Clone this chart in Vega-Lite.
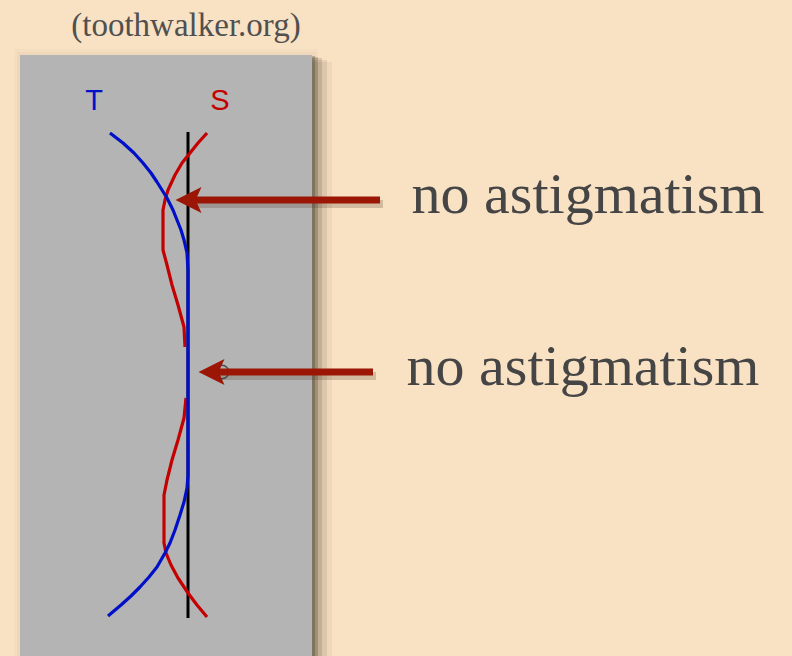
{
  "$schema": "https://vega.github.io/schema/vega-lite/v6.json",
  "width": 792,
  "height": 656,
  "autosize": {"type": "fit", "contains": "padding"},
  "padding": 0,
  "background": "#f9e1c3",
  "config": {"view": {"stroke": null}},
  "layer": [
    {
      "data": {"values": [
        {"x0": 14, "x1": 318, "y0": 49, "y1": 656, "o": 0.02},
        {"x0": 17, "x1": 316, "y0": 52, "y1": 656, "o": 0.03},
        {"x0": 312, "x1": 332, "y0": 62, "y1": 656, "o": 0.05},
        {"x0": 312, "x1": 327, "y0": 60, "y1": 656, "o": 0.09},
        {"x0": 312, "x1": 322, "y0": 58, "y1": 656, "o": 0.14},
        {"x0": 312, "x1": 318, "y0": 57, "y1": 656, "o": 0.2},
        {"x0": 312, "x1": 315, "y0": 56, "y1": 656, "o": 0.25}
      ]},
      "mark": {"type": "rect", "color": "#2e2618"},
      "encoding": {
        "x": {"field": "x0", "type": "quantitative", "scale": {"domain": [0, 792], "nice": false, "zero": false}, "axis": null},
        "x2": {"field": "x1"},
        "y": {"field": "y0", "type": "quantitative", "scale": {"domain": [0, 656], "reverse": true, "nice": false, "zero": false}, "axis": null},
        "y2": {"field": "y1"},
        "opacity": {"field": "o", "type": "quantitative", "scale": null, "legend": null}
      }
    },
    {
      "data": {"values": [{"x0": 20, "x1": 312, "y0": 55, "y1": 656}]},
      "mark": {"type": "rect", "color": "#b4b4b4"},
      "encoding": {
        "x": {"field": "x0", "type": "quantitative"},
        "x2": {"field": "x1"},
        "y": {"field": "y0", "type": "quantitative"},
        "y2": {"field": "y1"}
      }
    },
    {
      "data": {"values": [{"x": 188, "y0": 132, "y1": 618}]},
      "mark": {"type": "rule", "color": "#000000", "strokeWidth": 3},
      "encoding": {
        "x": {"field": "x", "type": "quantitative"},
        "y": {"field": "y0", "type": "quantitative"},
        "y2": {"field": "y1"}
      }
    },
    {
      "data": {"values": [
        {"curve": "S", "seg": "S1", "i": 0, "x": 207, "y": 133},
        {"curve": "S", "seg": "S1", "i": 1, "x": 198, "y": 143},
        {"curve": "S", "seg": "S1", "i": 2, "x": 190, "y": 153},
        {"curve": "S", "seg": "S1", "i": 3, "x": 182, "y": 163},
        {"curve": "S", "seg": "S1", "i": 4, "x": 175, "y": 175},
        {"curve": "S", "seg": "S1", "i": 5, "x": 168, "y": 190},
        {"curve": "S", "seg": "S1", "i": 6, "x": 165, "y": 200},
        {"curve": "S", "seg": "S1", "i": 7, "x": 163, "y": 210},
        {"curve": "S", "seg": "S1", "i": 8, "x": 163, "y": 250},
        {"curve": "S", "seg": "S1", "i": 9, "x": 167, "y": 265},
        {"curve": "S", "seg": "S1", "i": 10, "x": 172, "y": 285},
        {"curve": "S", "seg": "S1", "i": 11, "x": 178, "y": 305},
        {"curve": "S", "seg": "S1", "i": 12, "x": 184, "y": 327},
        {"curve": "S", "seg": "S1", "i": 13, "x": 185, "y": 347},
        {"curve": "S", "seg": "S2", "i": 0, "x": 186, "y": 398},
        {"curve": "S", "seg": "S2", "i": 1, "x": 184, "y": 418},
        {"curve": "S", "seg": "S2", "i": 2, "x": 178, "y": 440},
        {"curve": "S", "seg": "S2", "i": 3, "x": 172, "y": 460},
        {"curve": "S", "seg": "S2", "i": 4, "x": 167, "y": 480},
        {"curve": "S", "seg": "S2", "i": 5, "x": 164, "y": 495},
        {"curve": "S", "seg": "S2", "i": 6, "x": 164, "y": 543},
        {"curve": "S", "seg": "S2", "i": 7, "x": 166, "y": 553},
        {"curve": "S", "seg": "S2", "i": 8, "x": 171, "y": 565},
        {"curve": "S", "seg": "S2", "i": 9, "x": 178, "y": 578},
        {"curve": "S", "seg": "S2", "i": 10, "x": 188, "y": 593},
        {"curve": "S", "seg": "S2", "i": 11, "x": 197, "y": 605},
        {"curve": "S", "seg": "S2", "i": 12, "x": 207, "y": 617},
        {"curve": "T", "seg": "T1", "i": 0, "x": 110, "y": 133},
        {"curve": "T", "seg": "T1", "i": 1, "x": 123, "y": 143},
        {"curve": "T", "seg": "T1", "i": 2, "x": 134, "y": 153},
        {"curve": "T", "seg": "T1", "i": 3, "x": 143, "y": 163},
        {"curve": "T", "seg": "T1", "i": 4, "x": 151, "y": 173},
        {"curve": "T", "seg": "T1", "i": 5, "x": 157, "y": 182},
        {"curve": "T", "seg": "T1", "i": 6, "x": 167, "y": 198},
        {"curve": "T", "seg": "T1", "i": 7, "x": 173, "y": 210},
        {"curve": "T", "seg": "T1", "i": 8, "x": 177, "y": 220},
        {"curve": "T", "seg": "T1", "i": 9, "x": 181, "y": 230},
        {"curve": "T", "seg": "T1", "i": 10, "x": 184, "y": 240},
        {"curve": "T", "seg": "T1", "i": 11, "x": 187, "y": 253},
        {"curve": "T", "seg": "T1", "i": 12, "x": 188, "y": 270},
        {"curve": "T", "seg": "T1", "i": 13, "x": 188, "y": 475},
        {"curve": "T", "seg": "T1", "i": 14, "x": 187, "y": 488},
        {"curve": "T", "seg": "T1", "i": 15, "x": 184, "y": 502},
        {"curve": "T", "seg": "T1", "i": 16, "x": 180, "y": 515},
        {"curve": "T", "seg": "T1", "i": 17, "x": 175, "y": 530},
        {"curve": "T", "seg": "T1", "i": 18, "x": 170, "y": 543},
        {"curve": "T", "seg": "T1", "i": 19, "x": 165, "y": 553},
        {"curve": "T", "seg": "T1", "i": 20, "x": 157, "y": 567},
        {"curve": "T", "seg": "T1", "i": 21, "x": 149, "y": 577},
        {"curve": "T", "seg": "T1", "i": 22, "x": 140, "y": 587},
        {"curve": "T", "seg": "T1", "i": 23, "x": 131, "y": 596},
        {"curve": "T", "seg": "T1", "i": 24, "x": 121, "y": 605},
        {"curve": "T", "seg": "T1", "i": 25, "x": 108, "y": 616}
      ]},
      "mark": {"type": "line", "strokeWidth": 3.2, "interpolate": "linear", "strokeJoin": "round"},
      "encoding": {
        "x": {"field": "x", "type": "quantitative"},
        "y": {"field": "y", "type": "quantitative"},
        "detail": {"field": "seg"},
        "order": {"field": "i", "type": "quantitative"},
        "color": {"field": "curve", "type": "nominal", "scale": {"domain": ["S", "T"], "range": ["#c40000", "#0010c8"]}, "legend": null}
      }
    },
    {
      "data": {"values": [{"x": 222, "y": 372}]},
      "mark": {"type": "point", "shape": "circle", "size": 180, "filled": false, "stroke": "#222222", "strokeWidth": 1.5},
      "encoding": {
        "x": {"field": "x", "type": "quantitative"},
        "y": {"field": "y", "type": "quantitative"}
      }
    },
    {
      "data": {"values": [
        {"label": "T", "x": 94, "y": 101},
        {"label": "S", "x": 220, "y": 101}
      ]},
      "mark": {"type": "text", "font": "Liberation Sans", "fontSize": 29, "align": "center", "baseline": "middle"},
      "encoding": {
        "x": {"field": "x", "type": "quantitative"},
        "y": {"field": "y", "type": "quantitative"},
        "text": {"field": "label"},
        "color": {"field": "label", "type": "nominal", "scale": {"domain": ["S", "T"], "range": ["#c41a1a", "#1020c8"]}, "legend": null}
      }
    },
    {
      "data": {"values": [
        {"a": 1, "x0": 383, "x1": 196, "y": 204},
        {"a": 2, "x0": 376, "x1": 219, "y": 376}
      ]},
      "mark": {"type": "rule", "color": "#4a3420", "strokeWidth": 8, "opacity": 0.22},
      "encoding": {
        "x": {"field": "x0", "type": "quantitative"},
        "x2": {"field": "x1"},
        "y": {"field": "y", "type": "quantitative"}
      }
    },
    {
      "data": {"values": [
        {"a": 1, "x0": 380, "x1": 193, "y": 200},
        {"a": 2, "x0": 373, "x1": 216, "y": 372}
      ]},
      "mark": {"type": "rule", "color": "#9b1604", "strokeWidth": 7},
      "encoding": {
        "x": {"field": "x0", "type": "quantitative"},
        "x2": {"field": "x1"},
        "y": {"field": "y", "type": "quantitative"}
      }
    },
    {
      "data": {"values": [
        {"a": 1, "x": 188.5, "y": 200},
        {"a": 2, "x": 211.5, "y": 372}
      ]},
      "mark": {"type": "point", "shape": "M-1,0L1,-1L0.55,0L1,1Z", "size": 676, "filled": true, "color": "#9b1604", "opacity": 1},
      "encoding": {
        "x": {"field": "x", "type": "quantitative"},
        "y": {"field": "y", "type": "quantitative"}
      }
    },
    {
      "data": {"values": [
        {"t": "(toothwalker.org)", "x": 186, "y": 36}
      ]},
      "mark": {"type": "text", "font": "Liberation Serif", "fontSize": 33, "align": "center", "baseline": "alphabetic", "color": "#505050"},
      "encoding": {
        "x": {"field": "x", "type": "quantitative"},
        "y": {"field": "y", "type": "quantitative"},
        "text": {"field": "t"}
      }
    },
    {
      "data": {"values": [
        {"t": "no astigmatism", "x": 588, "y": 213},
        {"t": "no astigmatism", "x": 583, "y": 385}
      ]},
      "mark": {"type": "text", "font": "Liberation Serif", "fontSize": 58, "align": "center", "baseline": "alphabetic", "color": "#454545"},
      "encoding": {
        "x": {"field": "x", "type": "quantitative"},
        "y": {"field": "y", "type": "quantitative"},
        "text": {"field": "t"}
      }
    }
  ]
}
